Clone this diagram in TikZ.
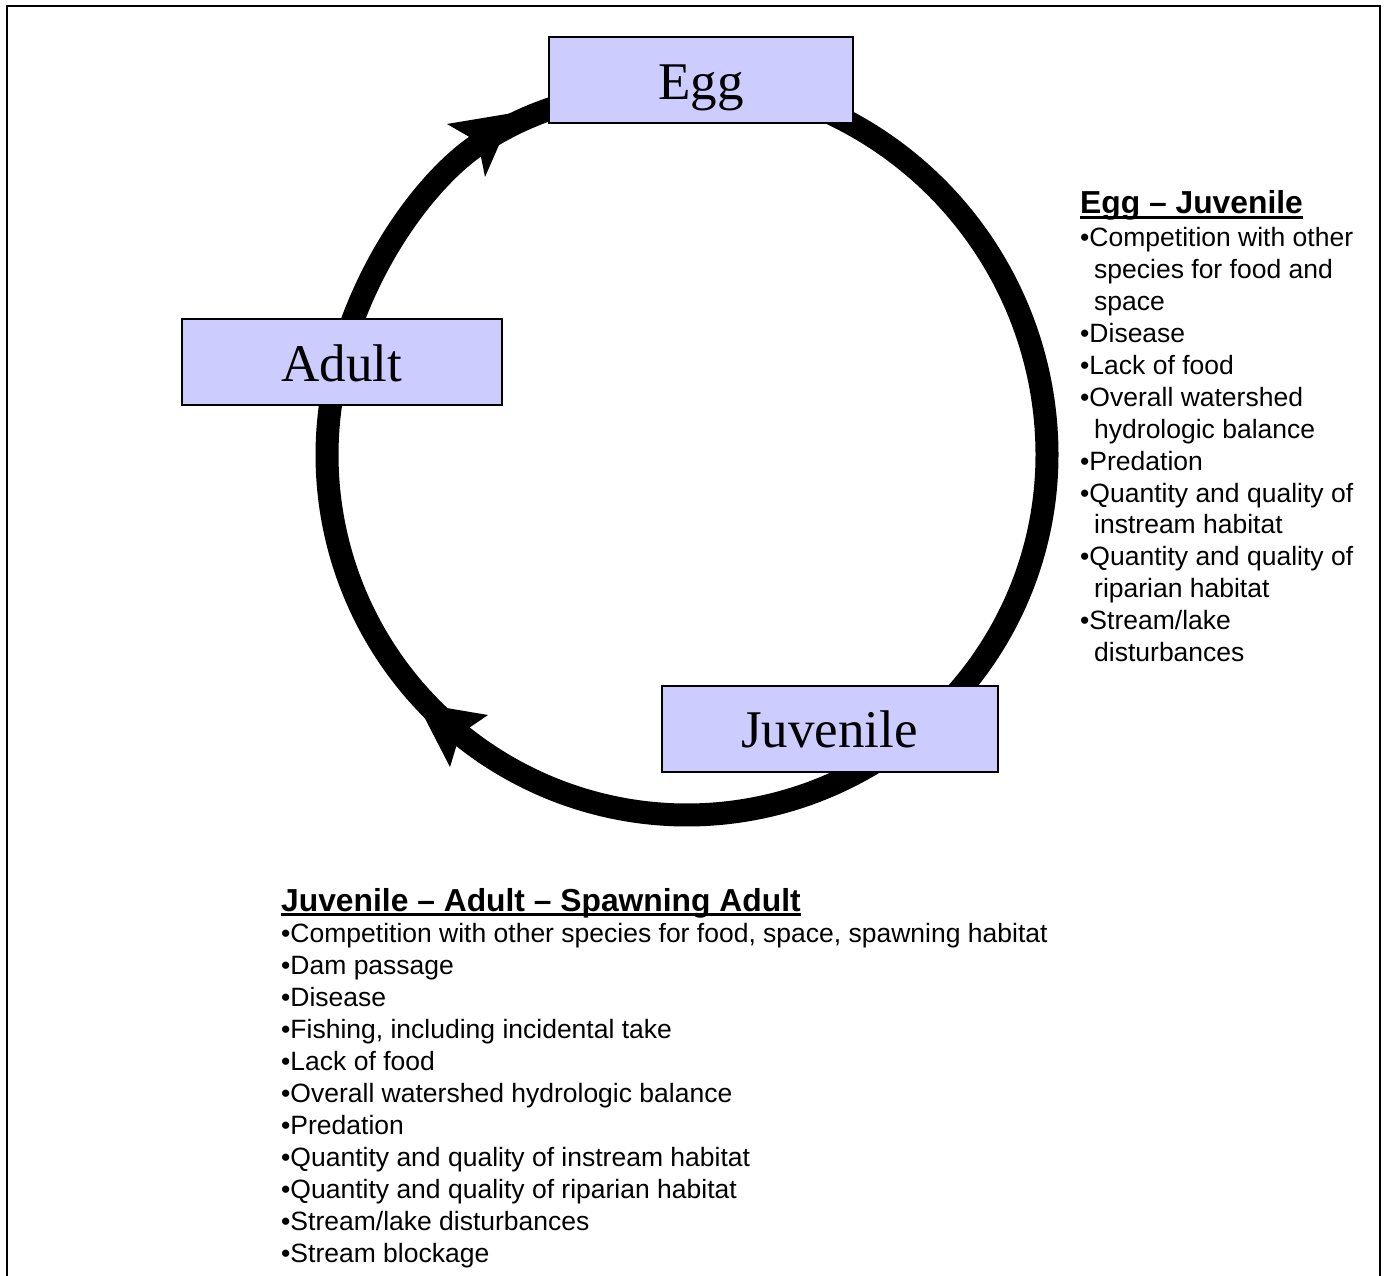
\documentclass[tikz,border=0pt]{standalone}
\usepackage{fontspec}
\setmainfont{Liberation Sans}
\newfontfamily\boxfont{Liberation Serif}
\definecolor{stagefill}{HTML}{CCCCFF}
\begin{document}
\begin{tikzpicture}[x=1pt,y=-1pt,
  ring/.style={line width=23pt, draw=black, line join=round},
  headfill/.style={fill=black, draw=none},
  stage/.style={draw=black, line width=2pt, fill=stagefill, inner sep=0pt},
  body/.style={anchor=base west, inner sep=0pt, font=\fontsize{26.5}{32}\selectfont},
  heading/.style={anchor=base west, inner sep=0pt, font=\fontsize{31.8}{38}\selectfont\bfseries},
  uline/.style={line width=2.3pt},
  lbl/.style={anchor=base, inner sep=0pt, font=\boxfont\fontsize{53}{60}\selectfont}
]
\useasboundingbox (0,0) rectangle (1384,1276);
\fill[white] (0,0) rectangle (1384,1276);
% outer frame
\draw[line width=2pt] (7,1276) -- (7,6) -- (1380,6) -- (1380,1276);

% ring (one continuous path from Egg round to Egg)
\draw[ring] (828,112) .. controls (962,174) and (1047,308) .. (1047,455)
  -- plot[domain=0:195, samples=200] ({687+360*cos(\x)}, {455+360*sin(\x)})
  .. controls (368,256) and (430,178) .. (476,146)
  .. controls (500,130) and (525,117) .. (556,107);
% arrowheads
\fill[headfill] (513,113) -- (447,124) -- (478,142) -- (485,177) -- cycle;
\fill[headfill] (417,703) -- (488,715) -- (460,734) -- (450,767) -- cycle;

% stage boxes
\node[stage, minimum width=304pt, minimum height=86pt] (egg) at (701,80) {};
\node[lbl] (eggt) at ([yshift=-19.5pt]egg.center) {Egg};
\node[stage, minimum width=320pt, minimum height=86pt] (adult) at (342,362) {};
\node[lbl] (adultt) at ([yshift=-19.5pt]adult.center) {Adult};
\node[stage, minimum width=336pt, minimum height=86pt] (juv) at (829.5,729) {};
\node[lbl] (juvt) at ([yshift=-18pt]juv.center) {Juvenile};

% right block
\node[heading] (rh) at (1080,214) {Egg – Juvenile};
\draw[uline] ([yshift=-3.5pt]rh.base west) -- ([yshift=-3.5pt]rh.base east);
\node[body] (r1) at (1080,247) {•Competition with other};
\node[body] (r2) at (1094,278.85) {species for food and};
\node[body] (r3) at (1094,310.7) {space};
\node[body] (r4) at (1080,342.55) {•Disease};
\node[body] (r5) at (1080,374.4) {•Lack of food};
\node[body] (r6) at (1080,406.25) {•Overall watershed};
\node[body] (r7) at (1094,438.1) {hydrologic balance};
\node[body] (r8) at (1080,470.5) {•Predation};
\node[body] (r9) at (1080,502.5) {•Quantity and quality of};
\node[body] (r10) at (1094,533.65) {instream habitat};
\node[body] (r11) at (1080,565.5) {•Quantity and quality of};
\node[body] (r12) at (1094,597.35) {riparian habitat};
\node[body] (r13) at (1080,629.2) {•Stream/lake};
\node[body] (r14) at (1094,661.05) {disturbances};

% bottom block
\node[heading] (bh) at (281,911) {Juvenile – Adult – Spawning Adult};
\draw[uline] ([yshift=-3.5pt]bh.base west) -- ([yshift=-3.5pt]bh.base east);
\foreach \t [count=\i] in {
  {•Competition with other species for food, space, spawning habitat},
  {•Dam passage},
  {•Disease},
  {•Fishing, including incidental take},
  {•Lack of food},
  {•Overall watershed hydrologic balance},
  {•Predation},
  {•Quantity and quality of instream habitat},
  {•Quantity and quality of riparian habitat},
  {•Stream/lake disturbances},
  {•Stream blockage}}
  \node[body] (b\i) at (281, {942+32*(\i-1)}) {\t};
\end{tikzpicture}
\end{document}
